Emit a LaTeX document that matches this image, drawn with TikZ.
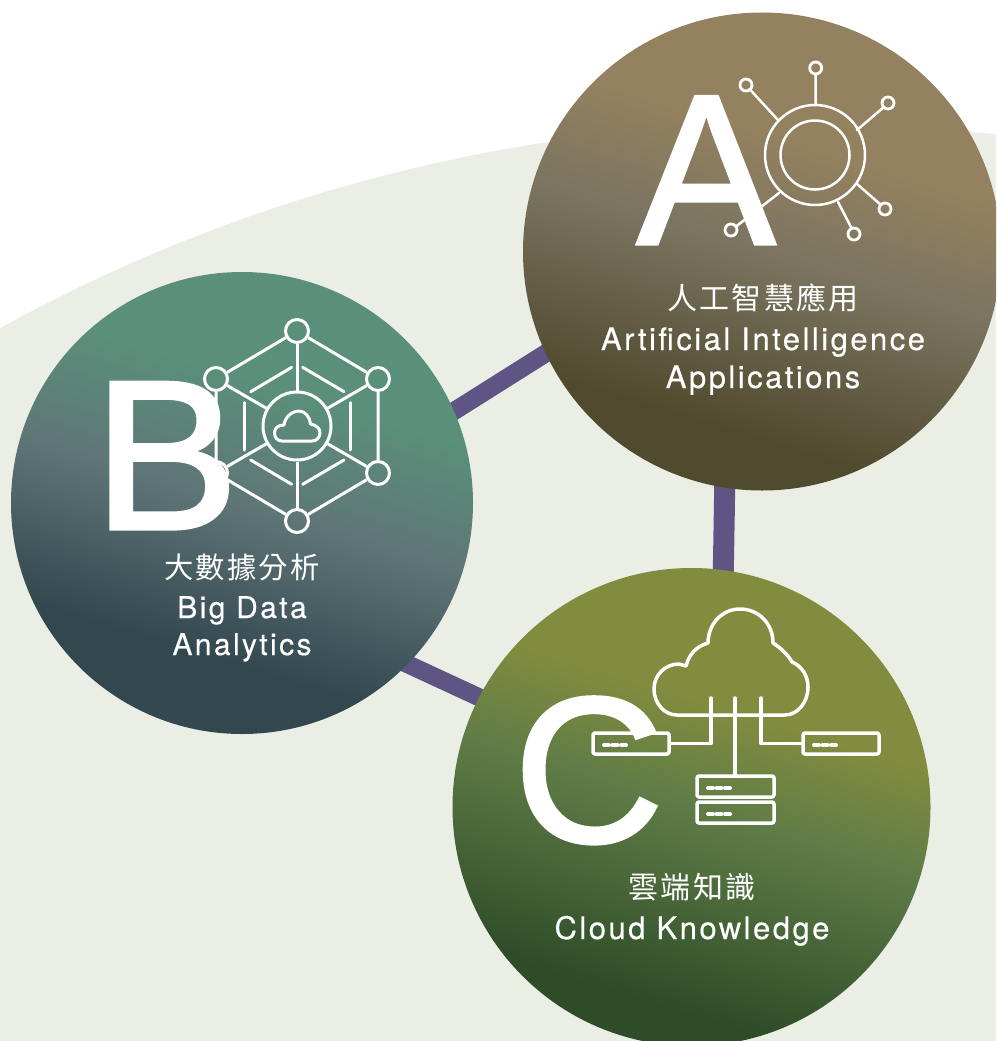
\documentclass[tikz,border=0pt]{standalone}
\usepackage{fontspec}
\setmainfont{Noto Sans CJK TC}
\newfontfamily\latf[LetterSpace=8,FakeBold=0.4]{TeX Gyre Heros}
\newfontfamily\cjkf[LetterSpace=7.5]{Noto Sans CJK TC}
\newfontfamily\bigf[FakeBold=1.5]{Liberation Sans}
\usetikzlibrary{calc}
\definecolor{bgc}{HTML}{EBEEE5}
\definecolor{purp}{HTML}{5E5585}
\definecolor{a1}{HTML}{94815F}\definecolor{a2}{HTML}{7B7460}\definecolor{a3}{HTML}{504A2E}
\definecolor{b1}{HTML}{5A8F7A}\definecolor{b2}{HTML}{5F7677}\definecolor{b3}{HTML}{33474F}
\definecolor{c1}{HTML}{828C3E}\definecolor{c2}{HTML}{5F7C47}\definecolor{c3}{HTML}{2D4C27}
\pgfdeclareverticalshading{shA}{100bp}{color(0bp)=(a3);color(31bp)=(a3);color(50bp)=(a2);color(62bp)=(a1);color(100bp)=(a1)}
\pgfdeclareverticalshading{shB}{100bp}{color(0bp)=(b3);color(33bp)=(b3);color(50bp)=(b2);color(63bp)=(b1);color(100bp)=(b1)}
\pgfdeclareverticalshading{shC}{100bp}{color(0bp)=(c3);color(29bp)=(c3);color(50bp)=(c2);color(61bp)=(c1);color(100bp)=(c1)}
\tikzset{
 disc/.style={circle,inner sep=0pt,outer sep=0pt,shade,shading angle=-17},
 link/.style={draw=purp},
 ico/.style={draw=white,line width=3pt,line cap=round,line join=round},
 cjkl/.style={text=white,anchor=base,inner sep=0pt,font=\cjkf\fontsize{30}{34}\selectfont},
 cjks/.style={cjkl,font=\cjkf\fontsize{29.3}{34}\selectfont},
 latl/.style={text=white,anchor=base,inner sep=0pt,font=\latf\fontsize{31}{36}\selectfont},
 lats/.style={latl,font=\latf\fontsize{30}{36}\selectfont},
 bigl/.style={text=white,anchor=base west,inner sep=0pt,font=\bigf\fontsize{208}{208}\selectfont},
 small/.style={ico,line width=2.5pt},
 pill/.style={white,line width=4pt,line cap=round},
 srv/.style={ico,line width=3.5pt,rounded corners=2pt},
}
\begin{document}
\begin{tikzpicture}[x=1pt,y=-1pt]
\useasboundingbox (0,0) rectangle (996,1041);
\clip (0,0) rectangle (996,1041);
\fill[bgc] (800,1783) circle[radius=1660];
% connector ends
\coordinate (ab1) at (432,425);\coordinate (ab2) at (570,338);
\coordinate (ac1) at (725,470);\coordinate (ac2) at (723,590);
\coordinate (bc1) at (390,656);\coordinate (bc2) at (500,707);
\draw[link,line width=18pt] (ab1) -- (ab2);
\draw[link,line width=21pt] (ac1) -- (ac2);
\draw[link,line width=18pt] (bc1) -- (bc2);
% discs
\node[disc,shading=shA,minimum size=478pt] (A) at (762,251.5) {};
\node[disc,shading=shB,minimum size=462pt] (B) at (242,503) {};
\node[disc,shading=shC,minimum size=478pt] (C) at (691.5,807) {};
% icon A
\coordinate (ac) at (815,155);
\draw[small] (ac) circle[radius=50];
\draw[small] (ac) circle[radius=34.5];
\foreach \n/\x/\y in {n1/815.7/68,n2/746/85,n3/888/103,n4/885/209,n5/854/234,n6/731/230}
  \node[circle,draw=white,line width=2.8pt,minimum size=12pt,inner sep=0pt] (\n) at (\x,\y) {};
\draw[small] (815.7,74) -- (815.5,105);
\draw[small] (749.5,89) -- (778,120);
\draw[small] (884,107) -- (857,130);
\draw[small] (881,205) -- (857,184);
\draw[small] (851.5,228) -- (838,202);
\draw[small] (736,226.5) -- (779,193);
% icon B
\coordinate (bc) at (297,426);
\foreach \n/\x/\y in {h1/297/331,h2/378/379,h3/378/473,h4/297/521,h5/216/473,h6/216/379}
  \node[circle,draw=white,line width=3pt,minimum size=23pt,inner sep=0pt] (\n) at (\x,\y) {};
\node[circle,draw=white,line width=3pt,minimum size=68pt,inner sep=0pt] (hc) at (bc) {};
\draw[ico,line cap=butt] (h1) -- (h2) -- (h3) -- (h4) -- (h5) -- (h6) -- (h1);
\foreach \n in {h1,h2,h3,h4,h5,h6} \draw[ico,line cap=butt] (hc) -- (\n);
\draw[ico] (250.7,391.7) -- (291.7,367.3);
\draw[ico] (302.7,367.3) -- (344,391.7);
\draw[ico] (350,402.7) -- (350,450);
\draw[ico] (344,460) -- (302.7,484.3);
\draw[ico] (291.7,484.3) -- (250.7,460);
\draw[ico] (244,402.7) -- (244,450);
\draw[ico] (282,441) .. controls (277,441) and (274.5,437) .. (274.5,433) .. controls (274.5,428) and (278,425) .. (284,425)
  .. controls (285,417) and (292,411) .. (299,411) .. controls (305,411) and (310,417) .. (310.5,424)
  .. controls (316,425) and (320,428) .. (320,433) .. controls (320,438) and (316,441) .. (312,441) -- cycle;
% icon C
\draw[ico,line width=3.5pt] (677,715) .. controls (664,715) and (654,703) .. (654,689) .. controls (654,675) and (665,664) .. (679,664) -- (686,666)
  .. controls (689,654) and (697,646) .. (708,643) .. controls (708,624) and (722,609) .. (740,609)
  .. controls (758,609) and (773,623) .. (773,643) .. controls (781,648) and (788,655) .. (792,662)
  .. controls (802,666) and (808,676) .. (808,687) .. controls (808,703) and (797,715) .. (785,715) -- cycle;
\node[srv,draw,minimum width=76pt,minimum height=21pt,inner sep=0pt,outer sep=0pt] (s1) at (631,743.5) {};
\node[srv,draw,minimum width=76pt,minimum height=21pt,inner sep=0pt,outer sep=0pt] (s2) at (841,743.5) {};
\node[srv,draw,minimum width=77pt,minimum height=21pt,inner sep=0pt,outer sep=0pt] (s3) at (735.5,786.5) {};
\node[srv,draw,minimum width=77pt,minimum height=21pt,inner sep=0pt,outer sep=0pt] (s4) at (735.5,812.5) {};
\coordinate (t1) at (711,698);\coordinate (t2) at (735,698);\coordinate (t3) at (761,698);
\draw[ico,line width=3.5pt] (t1) |- (s1.east);
\draw[ico,line width=3.5pt] (t2) -- (t2 |- s3.north);
\draw[ico,line width=3.5pt] (t3) |- (s2.west);
\foreach \s in {s1,s2,s3,s4} {
  \draw[pill] ($(\s.west)+(11,1.5)$) -- ++(5,0);
  \draw[pill] ($(\s.west)+(19.5,1.5)$) -- ++(5,0);
  \draw[pill] ($(\s.west)+(28,1.5)$) -- ++(5,0);
}
% letters
\node[bigl] (la) at (636.5,244) {\scalebox{1}[1.03]{A}};
\node[bigl] (lb) at (93,529) {\scalebox{1.05}[1.025]{B}};
\node[bigl] (lc) at (513.5,842) {C};
% labels
\node[cjkl] (a0) at (763,309) {人工智慧應用};
\node[latl] (a1l) at (763,350) {Artificial Intelligence};
\node[latl] (a2l) at (763,388) {Applications};
\node[cjks] (b0) at (242,578) {大數據分析};
\node[lats] (b1l) at (242,618) {Big Data};
\node[lats] (b2l) at (242,655) {Analytics};
\node[cjkl] (c0) at (692,898) {雲端知識};
\node[latl] (c1l) at (692,939) {Cloud Knowledge};
\end{tikzpicture}
\end{document}
